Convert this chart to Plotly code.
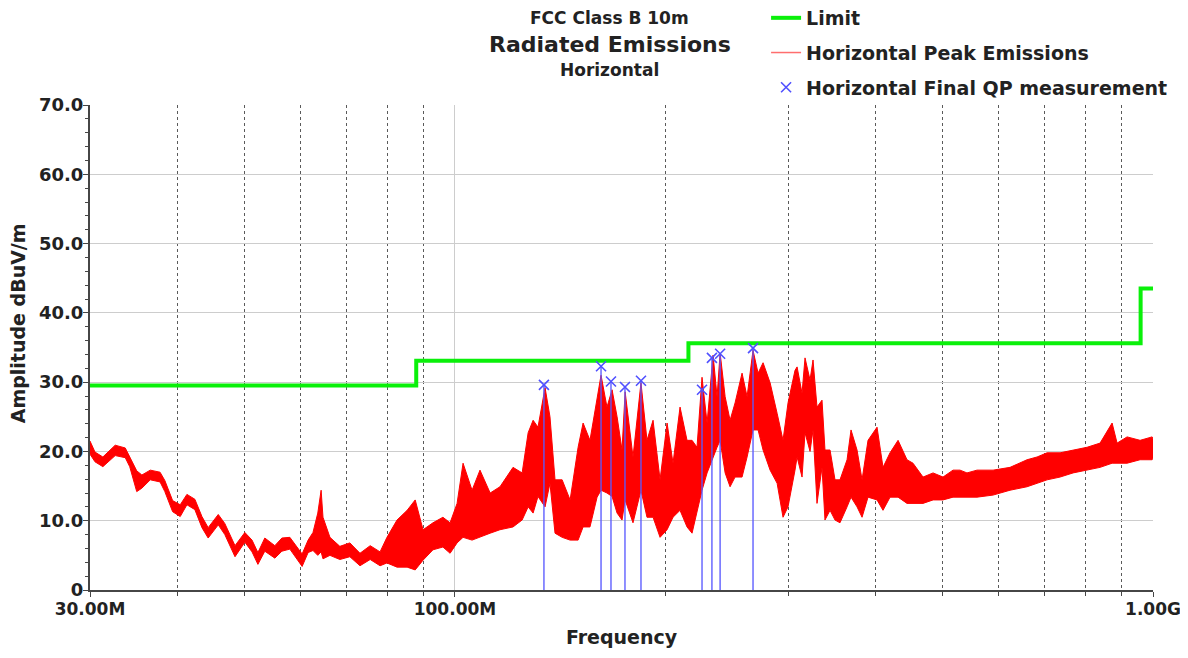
import math
import plotly.graph_objects as go

# ---------------- data ----------------
# Horizontal peak emissions: frequency (MHz) with upper / lower envelope (dBuV/m)
freq_mhz = [30.0, 30.5, 31.3, 32.6, 33.7, 34.2, 35.0, 35.6, 36.6, 37.8, 38.4, 39.4, 40.4, 41.3,
            42.4, 43.4, 44.3, 45.8, 46.8, 48.4, 50.0, 51.2, 52.2, 53.4, 55.2, 56.5, 58.0, 60.4,
            61.6, 62.6, 63.6, 64.3, 64.7, 66.2, 68.4, 70.7, 73.1, 75.6, 78.1, 79.9, 82.6, 85.4,
            87.7, 90.0, 93.0, 96.1, 98.4, 100.7, 102.7, 105.8, 108.6, 112.3, 116.0, 121.1, 124.8,
            127.3, 129.4, 131.5, 134.6, 136.8, 139.1, 142.4, 146.2, 150.1, 152.6, 156.1, 159.8,
            161.9, 165.1, 167.9, 170.7, 173.5, 175.3, 179.9, 184.7, 188.4, 192.2, 196.7, 201.3,
            205.3, 210.1, 215.0, 218.6, 222.2, 225.9, 229.7, 234.3, 237.4, 239.8, 243.8, 247.8,
            251.9, 257.8, 262.1, 267.3, 271.8, 276.3, 282.8, 289.4, 295.1, 300.0, 307.0, 309.1,
            314.2, 317.3, 322.6, 325.8, 330.1, 335.6, 338.9, 344.6, 350.3, 356.1, 364.5, 369.3,
            376.7, 383.0, 390.6, 402.4, 410.4, 420.0, 431.3, 444.2, 453.1, 468.3, 484.1, 500.2,
            517.0, 529.1, 541.4, 559.6, 590.0, 624.0, 660.0, 682.2, 705.1, 736.0, 768.3, 804.5,
            839.8, 873.8, 888.3, 918.1, 958.3, 997.1, 1000.0]
peak_hi = [21.5, 19.9, 19.2, 20.9, 20.5, 19.3, 17.2, 16.6, 17.3, 17.0, 15.8, 12.9, 12.3, 13.8,
           13.1, 10.6, 9.0, 10.9, 9.6, 6.4, 8.3, 7.2, 5.4, 7.5, 6.4, 7.5, 7.6, 5.2,
           7.2, 8.3, 11.1, 14.4, 10.5, 7.6, 6.3, 6.8, 5.3, 6.4, 5.5, 7.6, 10.1, 11.5,
           13.0, 8.7, 9.7, 10.5, 9.7, 12.5, 18.3, 14.4, 17.3, 14.0, 14.9, 17.7, 16.9,
           22.7, 24.5, 23.5, 29.2, 25.0, 15.9, 15.9, 13.0, 20.6, 24.1, 21.6, 27.4,
           31.0, 26.4, 28.9, 25.0, 20.2, 28.6, 19.2, 29.9, 21.6, 24.5, 15.9, 24.1,
           18.3, 26.4, 21.6, 21.6, 20.6, 30.7, 24.1, 33.9, 27.9, 34.2, 27.9, 24.5,
           27.0, 31.3, 27.9, 34.6, 31.3, 32.8, 29.9, 25.5, 21.6, 27.0, 31.7, 32.2,
           28.4, 33.5, 30.3, 33.2, 26.4, 27.4, 20.2, 20.2, 15.9, 15.9, 18.8, 23.1,
           20.2, 15.9, 21.6, 23.5, 17.7, 19.8, 21.6, 18.8, 18.3, 16.3, 16.9, 16.3,
           17.3, 17.3, 16.9, 17.3, 17.3, 17.7, 18.8, 19.2, 19.8, 19.8, 20.2, 20.6,
           21.2, 24.1, 21.2, 22.1, 21.6, 22.1, 21.8]
peak_lo = [19.6, 18.5, 17.8, 19.4, 19.1, 17.8, 14.2, 14.7, 15.9, 15.6, 14.2, 11.3, 10.6, 12.3,
           11.6, 9.0, 7.5, 9.4, 8.0, 4.8, 6.9, 5.5, 3.7, 5.6, 4.6, 5.6, 5.9, 3.4,
           5.4, 5.7, 5.0, 5.5, 4.5, 5.0, 4.4, 4.8, 3.5, 4.4, 3.5, 3.9, 3.3, 3.3,
           2.9, 4.3, 5.8, 6.2, 5.3, 6.8, 7.6, 7.2, 7.6, 8.2, 8.7, 9.1, 10.1,
           12.0, 11.1, 13.5, 12.0, 15.4, 8.2, 7.6, 7.2, 7.2, 9.1, 9.1, 13.4,
           14.4, 14.0, 13.5, 11.1, 10.1, 13.0, 9.7, 14.4, 10.5, 10.5, 7.6, 8.7,
           10.5, 11.5, 9.1, 8.2, 11.5, 14.4, 16.9, 19.2, 20.6, 21.6, 16.9, 14.9,
           16.3, 16.3, 19.2, 23.1, 23.1, 20.2, 17.3, 15.4, 10.5, 12.0, 17.3, 19.2,
           16.3, 22.7, 20.0, 23.1, 12.5, 17.7, 10.1, 11.5, 10.1, 9.7, 12.0, 13.4,
           12.0, 10.5, 13.4, 13.0, 11.5, 13.4, 13.4, 12.5, 12.5, 12.5, 13.0, 13.0,
           13.4, 13.4, 13.4, 13.4, 13.7, 14.4, 14.9, 15.4, 15.9, 16.3, 16.9, 17.3,
           17.7, 18.3, 18.3, 18.3, 18.8, 18.8, 19.0]

# FCC Class B 10 m limit (step function)
limit_freq = [30, 88, 216, 960, 1000]
limit_level = [29.5, 33.1, 35.6, 43.5, 43.5]

# Final quasi-peak measurements
qp_freq = [134.1, 161.9, 167.3, 175.2, 184.7, 225.9, 233.4, 239.8, 267.3]
qp_level = [29.6, 32.3, 30.1, 29.3, 30.2, 28.9, 33.5, 34.1, 34.9]

# axis ticks
y_tickvals = [0, 10, 20, 30, 40, 50, 60, 70]
y_ticktext = ["0", "10.0", "20.0", "30.0", "40.0", "50.0", "60.0", "70.0"]
x_tickvals = [30, 100, 1000]
x_ticktext = ["30.00M", "100.00M", "1.00G"]
x_minorvals = [40, 50, 60, 70, 80, 90, 200, 300, 400, 500, 600, 700, 800, 900]

# ---------------- figure ----------------
FONT = "DejaVu Sans"
INK = "#222"
fig = go.Figure()

# peak emissions band (upper envelope forward, lower envelope back)
fig.add_trace(go.Scatter(
    x=freq_mhz + freq_mhz[::-1],
    y=peak_hi + peak_lo[::-1],
    mode="lines", fill="toself", fillcolor="rgb(255,0,0)",
    line=dict(color="rgb(255,0,0)", width=1),
    showlegend=False, hoverinfo="skip"))

# limit line
fig.add_trace(go.Scatter(
    x=limit_freq, y=limit_level, mode="lines", line_shape="hv",
    line=dict(color="rgb(10,240,10)", width=4),
    name="Limit", legendgroup="a", legendrank=1))

# legend entry for the peak emissions
fig.add_trace(go.Scatter(
    x=[None], y=[None], mode="lines",
    line=dict(color="rgb(255,110,110)", width=1.5),
    name="Horizontal Peak Emissions", legendgroup="b", legendrank=2))

# QP markers with stems down to 0
fig.add_trace(go.Scatter(
    x=qp_freq, y=qp_level, mode="markers",
    marker=dict(symbol="x-thin", size=10, line=dict(width=1.6, color="rgb(80,80,255)"),
                color="rgb(80,80,255)"),
    error_y=dict(type="data", symmetric=False, array=[0] * len(qp_level),
                 arrayminus=qp_level, width=0, thickness=1.6, color="rgba(90,90,255,0.85)"),
    name="Horizontal Final QP measurement", legendgroup="c", legendrank=3))

fig.update_layout(
    width=1180, height=650,
    margin=dict(l=82, r=35, t=97, b=68, autoexpand=False),
    paper_bgcolor="white", plot_bgcolor="white",
    font=dict(family=FONT, size=16, color=INK),
    showlegend=True,
    legend=dict(x=0.636, y=1.2186, xanchor="left", yanchor="top",
                bgcolor="rgba(0,0,0,0)", traceorder="grouped", tracegroupgap=7,
                font=dict(family=FONT, size=19, color=INK, weight="bold"),
                itemwidth=30),
    xaxis=dict(type="log", range=[math.log10(30), math.log10(1000)], automargin=False,
               tickmode="array", tickvals=x_tickvals, ticktext=x_ticktext,
               tickfont=dict(family=FONT, size=17, color=INK, weight="bold"),
               ticklabelstandoff=-2,
               showgrid=True, gridcolor="rgb(205,205,205)", gridwidth=1,
               showline=True, linecolor="rgb(70,70,70)", linewidth=2,
               ticks="outside", ticklen=5, tickcolor="rgb(70,70,70)",
               minor=dict(tickmode="array", tickvals=x_minorvals, showgrid=True,
                          gridcolor="rgb(90,90,90)", griddash="dot", gridwidth=1,
                          ticks="outside", ticklen=4, tickcolor="rgb(70,70,70)"),
               zeroline=False,
               title=dict(text="Frequency", standoff=12,
                          font=dict(family=FONT, size=19, color=INK, weight="bold"))),
    yaxis=dict(range=[0, 70], tickmode="array", tickvals=y_tickvals, ticktext=y_ticktext,
               automargin=False, ticklabelstandoff=-4,
               tickfont=dict(family=FONT, size=18, color=INK, weight="bold"),
               showgrid=True, gridcolor="rgb(205,205,205)", gridwidth=1,
               showline=True, linecolor="rgb(70,70,70)", linewidth=2,
               ticks="outside", ticklen=5, tickcolor="rgb(70,70,70)",
               minor=dict(dtick=2, ticks="outside", ticklen=3, tickcolor="rgb(70,70,70)",
                          showgrid=False),
               zeroline=False, title=None),
)

# title block (three centred lines)
fig.add_annotation(text="FCC Class B 10m", xref="paper", yref="paper", x=0.489, y=1.179,
                   showarrow=False, xanchor="center", yanchor="middle",
                   font=dict(family=FONT, size=17, color=INK, weight="bold"))
fig.add_annotation(text="Radiated Emissions", xref="paper", yref="paper", x=0.489, y=1.124,
                   showarrow=False, xanchor="center", yanchor="middle",
                   font=dict(family=FONT, size=22, color=INK, weight="bold"))
fig.add_annotation(text="Horizontal", xref="paper", yref="paper", x=0.489, y=1.072,
                   showarrow=False, xanchor="center", yanchor="middle",
                   font=dict(family=FONT, size=17, color=INK, weight="bold"))
# y-axis title
fig.add_annotation(text="Amplitude dBuV/m", xref="paper", yref="paper", x=-0.0677, y=0.55,
                   showarrow=False, textangle=-90, xanchor="center", yanchor="middle",
                   font=dict(family=FONT, size=19, color=INK, weight="bold"))

fig.write_html("out.html")
